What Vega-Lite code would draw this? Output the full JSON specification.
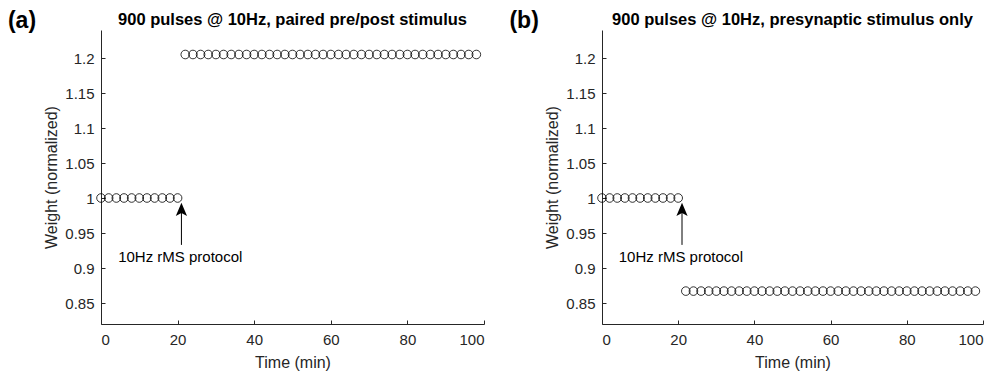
{
  "$schema": "https://vega.github.io/schema/vega-lite/v6.json",
  "padding": {"left": 7, "top": 9, "right": 10, "bottom": 1},
  "background": "white",
  "spacing": 118,
  "bounds": "flush",
  "config": {
    "view": {"stroke": null},
    "font": "Liberation Sans",
    "axis": {
      "grid": false,
      "domainColor": "#262626",
      "tickColor": "#262626",
      "labelColor": "#262626",
      "titleColor": "#262626",
      "labelFont": "Liberation Sans",
      "titleFont": "Liberation Sans",
      "labelFontSize": 15,
      "titleFontSize": 16,
      "titleFontWeight": "normal",
      "tickSize": -4,
      "domainWidth": 1,
      "tickWidth": 1
    }
  },
  "datasets": {
    "a": [
      {"t": 0, "w": 1}, {"t": 2, "w": 1}, {"t": 4, "w": 1}, {"t": 6, "w": 1}, {"t": 8, "w": 1}, {"t": 10, "w": 1}, {"t": 12, "w": 1}, {"t": 14, "w": 1}, {"t": 16, "w": 1}, {"t": 18, "w": 1}, {"t": 20, "w": 1},
      {"t": 22, "w": 1.205}, {"t": 24, "w": 1.205}, {"t": 26, "w": 1.205}, {"t": 28, "w": 1.205}, {"t": 30, "w": 1.205}, {"t": 32, "w": 1.205}, {"t": 34, "w": 1.205}, {"t": 36, "w": 1.205}, {"t": 38, "w": 1.205}, {"t": 40, "w": 1.205},
      {"t": 42, "w": 1.205}, {"t": 44, "w": 1.205}, {"t": 46, "w": 1.205}, {"t": 48, "w": 1.205}, {"t": 50, "w": 1.205}, {"t": 52, "w": 1.205}, {"t": 54, "w": 1.205}, {"t": 56, "w": 1.205}, {"t": 58, "w": 1.205}, {"t": 60, "w": 1.205},
      {"t": 62, "w": 1.205}, {"t": 64, "w": 1.205}, {"t": 66, "w": 1.205}, {"t": 68, "w": 1.205}, {"t": 70, "w": 1.205}, {"t": 72, "w": 1.205}, {"t": 74, "w": 1.205}, {"t": 76, "w": 1.205}, {"t": 78, "w": 1.205}, {"t": 80, "w": 1.205},
      {"t": 82, "w": 1.205}, {"t": 84, "w": 1.205}, {"t": 86, "w": 1.205}, {"t": 88, "w": 1.205}, {"t": 90, "w": 1.205}, {"t": 92, "w": 1.205}, {"t": 94, "w": 1.205}, {"t": 96, "w": 1.205}, {"t": 98, "w": 1.205}
    ],
    "b": [
      {"t": 0, "w": 1}, {"t": 2, "w": 1}, {"t": 4, "w": 1}, {"t": 6, "w": 1}, {"t": 8, "w": 1}, {"t": 10, "w": 1}, {"t": 12, "w": 1}, {"t": 14, "w": 1}, {"t": 16, "w": 1}, {"t": 18, "w": 1}, {"t": 20, "w": 1},
      {"t": 22, "w": 0.867}, {"t": 24, "w": 0.867}, {"t": 26, "w": 0.867}, {"t": 28, "w": 0.867}, {"t": 30, "w": 0.867}, {"t": 32, "w": 0.867}, {"t": 34, "w": 0.867}, {"t": 36, "w": 0.867}, {"t": 38, "w": 0.867}, {"t": 40, "w": 0.867},
      {"t": 42, "w": 0.867}, {"t": 44, "w": 0.867}, {"t": 46, "w": 0.867}, {"t": 48, "w": 0.867}, {"t": 50, "w": 0.867}, {"t": 52, "w": 0.867}, {"t": 54, "w": 0.867}, {"t": 56, "w": 0.867}, {"t": 58, "w": 0.867}, {"t": 60, "w": 0.867},
      {"t": 62, "w": 0.867}, {"t": 64, "w": 0.867}, {"t": 66, "w": 0.867}, {"t": 68, "w": 0.867}, {"t": 70, "w": 0.867}, {"t": 72, "w": 0.867}, {"t": 74, "w": 0.867}, {"t": 76, "w": 0.867}, {"t": 78, "w": 0.867}, {"t": 80, "w": 0.867},
      {"t": 82, "w": 0.867}, {"t": 84, "w": 0.867}, {"t": 86, "w": 0.867}, {"t": 88, "w": 0.867}, {"t": 90, "w": 0.867}, {"t": 92, "w": 0.867}, {"t": 94, "w": 0.867}, {"t": 96, "w": 0.867}, {"t": 98, "w": 0.867}
    ],
    "arrow": [{"t": 21, "y0": 0.933, "y1": 0.99, "head": 0.9836}],
    "label": [{"t": 20.7, "y": 0.916, "text": "10Hz rMS protocol"}],
    "headA": [{"t": -24.3, "y": 1.253, "text": "(a)", "role": "tag"}, {"t": 50, "y": 1.254, "text": "900 pulses @ 10Hz, paired pre/post stimulus", "role": "title"}],
    "headB": [{"t": -24.3, "y": 1.253, "text": "(b)", "role": "tag"}, {"t": 50, "y": 1.254, "text": "900 pulses @ 10Hz, presynaptic stimulus only", "role": "title"}]
  },
  "hconcat": [
    {
      "width": 383,
      "height": 294,
      "layer": [
        {
          "data": {"name": "a"},
          "mark": {"type": "point", "shape": "circle", "filled": false, "stroke": "black", "strokeWidth": 0.8, "size": 74, "opacity": 1, "clip": false},
          "encoding": {
            "x": {"field": "t", "type": "quantitative", "scale": {"domain": [0, 100], "nice": false, "zero": false}, "axis": {"title": "Time (min)", "values": [0, 20, 40, 60, 80, 100], "labelPadding": 12, "titlePadding": 7}},
            "y": {"field": "w", "type": "quantitative", "scale": {"domain": [0.82, 1.24], "nice": false, "zero": false}, "axis": {"title": "Weight (normalized)", "values": [0.85, 0.9, 0.95, 1, 1.05, 1.1, 1.15, 1.2], "format": "~g", "labelPadding": 11, "titlePadding": 5}}
          }
        },
        {
          "data": {"name": "arrow"},
          "mark": {"type": "rule", "color": "black", "strokeWidth": 1},
          "encoding": {"x": {"field": "t", "type": "quantitative"}, "y": {"field": "y0", "type": "quantitative"}, "y2": {"field": "y1"}}
        },
        {
          "data": {"name": "arrow"},
          "mark": {"type": "point", "shape": "M0,-1L0.85,1L0,0.55L-0.85,1Z", "filled": true, "color": "black", "size": 175, "opacity": 1},
          "encoding": {"x": {"field": "t", "type": "quantitative"}, "y": {"field": "head", "type": "quantitative"}}
        },
        {
          "data": {"name": "label"},
          "mark": {"type": "text", "font": "Liberation Sans", "fontSize": 15, "color": "black", "align": "center", "baseline": "middle"},
          "encoding": {"x": {"field": "t", "type": "quantitative"}, "y": {"field": "y", "type": "quantitative"}, "text": {"field": "text"}}
        },
        {
          "data": {"name": "headA"},
          "transform": [{"filter": "datum.role === 'tag'"}],
          "mark": {"type": "text", "font": "Liberation Sans", "fontSize": 23, "fontWeight": "bold", "color": "black", "align": "left", "baseline": "middle", "clip": false},
          "encoding": {"x": {"field": "t", "type": "quantitative"}, "y": {"field": "y", "type": "quantitative"}, "text": {"field": "text"}}
        },
        {
          "data": {"name": "headA"},
          "transform": [{"filter": "datum.role === 'title'"}],
          "mark": {"type": "text", "font": "Liberation Sans", "fontSize": 16.5, "fontWeight": "bold", "color": "black", "align": "center", "baseline": "middle", "clip": false},
          "encoding": {"x": {"field": "t", "type": "quantitative"}, "y": {"field": "y", "type": "quantitative"}, "text": {"field": "text"}}
        }
      ]
    },
    {
      "width": 381,
      "height": 294,
      "layer": [
        {
          "data": {"name": "b"},
          "mark": {"type": "point", "shape": "circle", "filled": false, "stroke": "black", "strokeWidth": 0.8, "size": 74, "opacity": 1, "clip": false},
          "encoding": {
            "x": {"field": "t", "type": "quantitative", "scale": {"domain": [0, 100], "nice": false, "zero": false}, "axis": {"title": "Time (min)", "values": [0, 20, 40, 60, 80, 100], "labelPadding": 12, "titlePadding": 7}},
            "y": {"field": "w", "type": "quantitative", "scale": {"domain": [0.82, 1.24], "nice": false, "zero": false}, "axis": {"title": "Weight (normalized)", "values": [0.85, 0.9, 0.95, 1, 1.05, 1.1, 1.15, 1.2], "format": "~g", "labelPadding": 11, "titlePadding": 5}}
          }
        },
        {
          "data": {"name": "arrow"},
          "mark": {"type": "rule", "color": "black", "strokeWidth": 1},
          "encoding": {"x": {"field": "t", "type": "quantitative"}, "y": {"field": "y0", "type": "quantitative"}, "y2": {"field": "y1"}}
        },
        {
          "data": {"name": "arrow"},
          "mark": {"type": "point", "shape": "M0,-1L0.85,1L0,0.55L-0.85,1Z", "filled": true, "color": "black", "size": 175, "opacity": 1},
          "encoding": {"x": {"field": "t", "type": "quantitative"}, "y": {"field": "head", "type": "quantitative"}}
        },
        {
          "data": {"name": "label"},
          "mark": {"type": "text", "font": "Liberation Sans", "fontSize": 15, "color": "black", "align": "center", "baseline": "middle"},
          "encoding": {"x": {"field": "t", "type": "quantitative"}, "y": {"field": "y", "type": "quantitative"}, "text": {"field": "text"}}
        },
        {
          "data": {"name": "headB"},
          "transform": [{"filter": "datum.role === 'tag'"}],
          "mark": {"type": "text", "font": "Liberation Sans", "fontSize": 23, "fontWeight": "bold", "color": "black", "align": "left", "baseline": "middle", "clip": false},
          "encoding": {"x": {"field": "t", "type": "quantitative"}, "y": {"field": "y", "type": "quantitative"}, "text": {"field": "text"}}
        },
        {
          "data": {"name": "headB"},
          "transform": [{"filter": "datum.role === 'title'"}],
          "mark": {"type": "text", "font": "Liberation Sans", "fontSize": 16.5, "fontWeight": "bold", "color": "black", "align": "center", "baseline": "middle", "clip": false},
          "encoding": {"x": {"field": "t", "type": "quantitative"}, "y": {"field": "y", "type": "quantitative"}, "text": {"field": "text"}}
        }
      ]
    }
  ]
}
